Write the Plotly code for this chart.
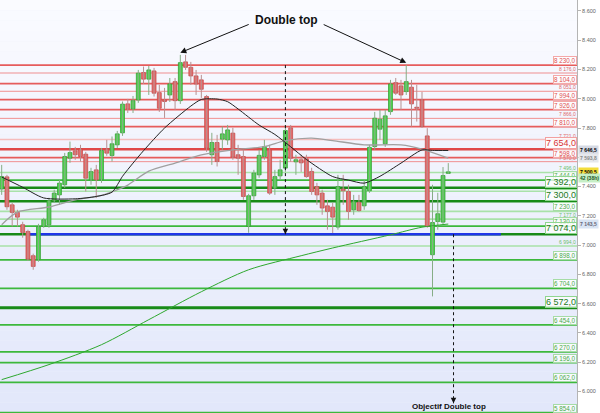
import plotly.graph_objects as go

# ---- daily OHLC -------------------------------------------------------------
opens = [7383, 7466, 7275, 7223, 7139, 7093, 6927, 6900, 7127, 7139,
         7304, 7343, 7412, 7594, 7644, 7656, 7621, 7446, 7514, 7446,
         7656, 7612, 7685, 7767, 7965, 7931, 7992, 8179, 8134, 8190,
         8042, 7992, 8026, 8117, 7987, 8252, 8215, 8156, 8129, 8015,
         7617, 7701, 7724, 7719, 7765, 7617, 7605, 7127, 7337, 7480,
         7605, 7651, 7389, 7473, 7526, 7801, 7569, 7583, 7589, 7503,
         7400, 7355, 7268, 7259, 7123, 7383, 7366, 7241, 7291, 7268,
         7371, 7673, 7792, 7692, 7912, 8110, 8088, 8049, 8079, 7942,
         7992, 7746, 6934, 7161, 7157, 7490]
highs = [7548, 7480, 7289, 7241, 7159, 7105, 6941, 7145, 7186, 7323,
         7378, 7446, 7630, 7707, 7671, 7685, 7637, 7528, 7548, 7664,
         7719, 7742, 7780, 7981, 7999, 8019, 8197, 8220, 8224, 8211,
         8095, 8074, 8142, 8142, 8300, 8300, 8252, 8197, 8163, 8026,
         7767, 7753, 7810, 7821, 7801, 7685, 7651, 7350, 7514, 7651,
         7719, 7685, 7514, 7583, 7821, 7821, 7617, 7617, 7617, 7528,
         7425, 7378, 7309, 7289, 7480, 7480, 7412, 7343, 7343, 7446,
         7685, 7910, 7924, 7924, 8129, 8142, 8129, 8231, 8129, 8095,
         8047, 7799, 7412, 7357, 7533, 7560]
lows = [7343, 7241, 7127, 7127, 7050, 6893, 6831, 6886, 7118, 7118,
        7289, 7275, 7391, 7562, 7583, 7571, 7366, 7412, 7321, 7425,
        7610, 7571, 7664, 7746, 7903, 7903, 7972, 8101, 8026, 8015,
        7910, 7869, 7978, 7924, 7965, 8197, 8095, 8026, 8006, 7637,
        7548, 7537, 7651, 7685, 7583, 7480, 7309, 7084, 7309, 7460,
        7583, 7343, 7343, 7446, 7500, 7569, 7480, 7500, 7460, 7343,
        7275, 7207, 7105, 7082, 7105, 7275, 7173, 7207, 7227, 7241,
        7357, 7651, 7719, 7671, 7890, 8026, 7924, 8026, 7810, 7844,
        7801, 7118, 6649, 7105, 7139, 7487]
closes = [7468, 7262, 7223, 7191, 7086, 6904, 6854, 7127, 7173, 7304,
          7355, 7423, 7605, 7632, 7617, 7605, 7457, 7502, 7446, 7646,
          7628, 7692, 7760, 7963, 7931, 7987, 8175, 8134, 8197, 8038,
          7935, 7981, 8101, 7987, 8247, 8215, 8156, 8101, 8065, 7662,
          7701, 7571, 7760, 7787, 7601, 7594, 7332, 7337, 7492, 7613,
          7673, 7355, 7468, 7514, 7783, 7594, 7583, 7562, 7468, 7366,
          7343, 7253, 7230, 7191, 7400, 7371, 7230, 7298, 7236, 7400,
          7668, 7867, 7860, 7883, 8101, 8038, 8026, 8117, 7965, 7935,
          7810, 7127, 7154, 7214, 7475, 7500.5]
days = list(range(len(closes)))

# ---- moving averages (sampled) -----------------------------------------------
ma_short_x = [0, 4, 8, 14, 18, 21, 23, 25, 27, 31, 36, 38, 41, 43, 45, 49,
              52, 55, 58, 63, 66, 69, 72, 76, 80, 82, 85]
ma_short = [7465, 7395, 7322, 7316, 7332, 7362, 7470, 7560, 7645, 7800, 7950,
            7995, 7998, 7980, 7930, 7820, 7756, 7672, 7585, 7468, 7444, 7423,
            7470, 7560, 7650, 7647, 7646.5]
ma_mid_x = [0, 3, 9, 14, 19, 22, 24, 28, 33, 38, 44, 50, 54, 59, 63, 69, 76,
            80, 85]
ma_mid = [7139, 7225, 7260, 7309, 7339, 7378, 7410, 7505, 7560, 7617, 7651,
          7673, 7714, 7731, 7714, 7685, 7685, 7656, 7593.8]
ma_long_x = [0, 9, 19, 28, 38, 47, 57, 63, 74, 80, 85]
ma_long = [6080, 6183, 6319, 6490, 6681, 6831, 6927, 6980, 7070, 7122, 7143.5]

# ---- horizontal levels ------------------------------------------------------
resistances = [8230, 8176, 8104, 8051, 7994, 7926, 7866, 7810, 7721, 7654,
               7598, 7570]
supports = [7496, 7444, 7392, 7368, 7300, 7230, 7177, 7130, 7074, 6994, 6898,
            6704, 6572, 6454, 6270, 6196, 6062, 5854]
major_levels = [7654, 7392, 7300, 7074, 6572]
minor_levels = [8176, 8051, 7866, 7721, 7570, 7496, 7177, 6994]
pale_levels = [7721, 7496, 7368, 7230, 7177, 6994]
unlabeled_levels = [7368]

# double top pattern
neckline = 7074
neck_span = [5, 95]
pattern_top = 8230
top_days = [34, 77]
measure_in_day = 54
measure_out_day = 86
objective = neckline - (pattern_top - neckline)

yticks = list(range(6000, 8601, 200))

FONT = "Liberation Sans, Arial, sans-serif"


def fr(v):
    return f"{v:,.1f}".replace(",", " ").replace(".", ",")


fig = go.Figure()

# wicks, split by candle direction
for up, wcol in ((True, "#86ad86"), (False, "#b89090")):
    wx, wy = [], []
    for d, o, h, l, c in zip(days, opens, highs, lows, closes):
        if (c >= o) == up:
            wx += [d, d, None]
            wy += [l, h, None]
    fig.add_trace(go.Scatter(x=wx, y=wy, mode="lines", line=dict(color=wcol, width=1),
                             showlegend=False, hoverinfo="skip"))

# candle bodies
base = [min(o, c) for o, c in zip(opens, closes)]
span = [max(abs(c - o), 5) for o, c in zip(opens, closes)]
fill = ["#52d452" if c >= o else "#e86b6b" for o, c in zip(opens, closes)]
edge = ["#35a035" if c >= o else "#c44c4c" for o, c in zip(opens, closes)]
fig.add_trace(go.Bar(x=days, y=span, base=base, width=0.74,
                     marker=dict(color=fill, line=dict(color=edge, width=0.8)),
                     showlegend=False, hoverinfo="skip"))

fig.add_trace(go.Scatter(x=ma_long_x, y=ma_long, mode="lines",
                         line=dict(color="#2ea82e", width=1, shape="spline", smoothing=0.8),
                         showlegend=False, hoverinfo="skip"))
fig.add_trace(go.Scatter(x=ma_mid_x, y=ma_mid, mode="lines",
                         line=dict(color="#a0a0a0", width=1.3, shape="spline", smoothing=0.8),
                         showlegend=False, hoverinfo="skip"))
fig.add_trace(go.Scatter(x=ma_short_x, y=ma_short, mode="lines",
                         line=dict(color="#222222", width=1, shape="spline", smoothing=0.7),
                         showlegend=False, hoverinfo="skip"))

# measured move: pattern height projected below the neckline
fig.add_trace(go.Scatter(x=[measure_in_day, measure_in_day], y=[pattern_top, neckline],
                         mode="lines", line=dict(color="#111", width=1, dash="dot"),
                         showlegend=False, hoverinfo="skip"))
fig.add_trace(go.Scatter(x=[measure_out_day, measure_out_day], y=[neckline, objective],
                         mode="lines", line=dict(color="#111", width=1, dash="dot"),
                         showlegend=False, hoverinfo="skip"))

shapes = []
# soft vertical gradient behind the plot
top_rgb = (250, 251, 255)
bot_rgb = (226, 231, 250)
nb = 40
for k in range(nb):
    t = k / (nb - 1)
    c = tuple(round(top_rgb[j] + (bot_rgb[j] - top_rgb[j]) * t) for j in range(3))
    shapes.append(dict(type="rect", xref="paper", yref="paper", x0=0, x1=1,
                       y0=1 - (k + 1) / nb, y1=1 - k / nb, layer="below",
                       fillcolor=f"rgb{c}", line=dict(width=0)))

annotations = []


def level_style(v, red):
    if v in major_levels:
        return ("#e04848" if red else "#178a17"), 2.5 if v != 6572 else 3
    if v in pale_levels:
        return ("#f5bcbc" if red else "#a9e2a9"), 1.6
    if v in minor_levels:
        return ("#f09090" if red else "#5cc45c"), 1
    return ("#e65c5c" if red else "#3cb83c"), 1.7


for group, red in ((resistances, True), (supports, False)):
    for v in group:
        col, w = level_style(v, red)
        shapes.append(dict(type="line", xref="paper", yref="y", x0=0, x1=1,
                           y0=v, y1=v, layer="below", line=dict(color=col, width=w)))
        if v in unlabeled_levels:
            continue
        if v in major_levels:
            size, tcol, bcol, bw = 9, ("#d83434" if red else "#1b7a1b"), ("#f2a0a0" if red else "#8fd68f"), 1
        elif v in minor_levels:
            size, tcol, bcol, bw = 5, ("#e06a6a" if red else "#6cc06c"), None, 0
        else:
            size, tcol, bcol, bw = 6.3, ("#e05050" if red else "#4aaa4a"), ("#f4a8a8" if red else "#a6dca6"), 1
        ann = dict(xref="paper", yref="y", x=1, y=v, xanchor="right", yanchor="bottom",
                   text=fr(v), showarrow=False, font=dict(family=FONT, size=size, color=tcol),
                   borderpad=0)
        if bcol:
            ann.update(bordercolor=bcol, borderwidth=bw, bgcolor="rgba(255,255,255,0.75)")
        annotations.append(ann)

# neckline
shapes.append(dict(type="line", xref="x", yref="y", x0=neck_span[0], x1=neck_span[1],
                   y0=neckline, y1=neckline, layer="below",
                   line=dict(color="#1f35e8", width=2.5)))

# arrowheads of the measured move
for xd, yv in ((measure_in_day, neckline), (measure_out_day, objective)):
    annotations.append(dict(x=xd, y=yv, xref="x", yref="y", ax=0, ay=-6, text="",
                            showarrow=True, arrowhead=2, arrowsize=1.1, arrowwidth=1,
                            arrowcolor="#111"))

annotations.append(dict(x=measure_out_day - 0.9, y=0, xref="x", yref="paper",
                        yanchor="bottom", yshift=0, text="<b>Objectif Double top</b>",
                        showarrow=False, font=dict(family=FONT, size=8, color="#111")))

# "Double top" title with arrows to both peaks
annotations.append(dict(x=54.2, y=8540, xref="x", yref="y", text="<b>Double top</b>",
                        showarrow=False, font=dict(family=FONT, size=12, color="#111")))
for d, tail_x in zip(top_days, (47.3, 61.0)):
    annotations.append(dict(x=d, y=highs[d] + 15, xref="x", yref="y",
                            ax=tail_x, ay=8512, axref="x", ayref="y", text="",
                            showarrow=True, arrowhead=2, arrowsize=1.2, arrowwidth=1,
                            arrowcolor="#111"))

# value tags on the price axis
tags = [
    (ma_short[-1], fr(ma_short[-1]), "#d6dae4", "#000", 0),
    (ma_mid[-1], fr(ma_mid[-1]), "#e6e8ec", "#888", 0),
    (closes[-1], fr(closes[-1]), "#f3dd3c", "#000", 0),
    (closes[-1], "42 (38h)", "#c6efc6", "#225522", -6),
    (ma_long[-1], fr(ma_long[-1]), "#d9e4f3", "#667", 0),
]
for v, txt, bg, fc, ys in tags:
    annotations.append(dict(xref="paper", yref="y", x=1, y=v, xanchor="left",
                            yanchor="middle", xshift=1, yshift=ys, text=f"<b>{txt}</b>",
                            showarrow=False, bgcolor=bg, borderpad=1,
                            font=dict(family=FONT, size=5, color=fc)))

fig.update_layout(
    width=600, height=413,
    margin=dict(l=0, r=23, t=0, b=0),
    paper_bgcolor="white", plot_bgcolor="#eef1fb",
    shapes=shapes, annotations=annotations,
    showlegend=False, barmode="overlay",
    xaxis=dict(range=[-0.32, 109.5], visible=False, fixedrange=True),
    yaxis=dict(range=[5852, 8675], side="right", showgrid=False, zeroline=False,
               showline=True, linecolor="#b4b4b4", linewidth=1,
               ticks="outside", ticklen=3, tickcolor="#b4b4b4",
               tickvals=yticks, ticktext=[f"{v:,}".replace(",", ".") for v in yticks],
               tickfont=dict(family=FONT, size=5.5, color="#666"),
               automargin=False),
)

fig.write_html("out.html")
